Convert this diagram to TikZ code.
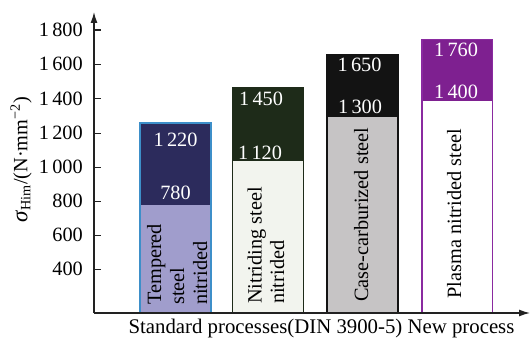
\documentclass[tikz,border=0pt]{standalone}
\usepackage{fontspec}
\setmainfont{Liberation Serif}
\usetikzlibrary{arrows.meta}
\definecolor{navy}{HTML}{2C2B5C}
\definecolor{lavender}{HTML}{A09DCC}
\definecolor{skyb}{HTML}{3D8FC9}
\definecolor{dgreen}{HTML}{1E2B19}
\definecolor{pale}{HTML}{F2F4EE}
\definecolor{nearblack}{HTML}{131313}
\definecolor{lgray}{HTML}{C6C4C5}
\definecolor{purp}{HTML}{7E2090}
\definecolor{purpb}{HTML}{8A2AA0}
\definecolor{axisc}{HTML}{222222}
\begin{document}
\begin{tikzpicture}[x=1pt,y=-1pt,
  every node/.style={font=\fontsize{20.3}{23}\selectfont, inner sep=0pt},
  axisline/.style={draw=axisc, line width=1.3pt},
  tickline/.style={draw=axisc, line width=1.1pt},
  ticklabel/.style={anchor=east},
  vallabel/.style={text=white},
  rottext/.style={rotate=90, anchor=base west},
  barline/.style={line width=1.2pt}]
\useasboundingbox (0,0) rectangle (530,339);
% bars
\fill[lavender] (140,205) rectangle (211,313);
\fill[navy] (140,123) rectangle (211,205);
\draw[barline, skyb] (140,123) rectangle (211,313);
\fill[pale] (232.5,161.5) rectangle (303.5,313);
\fill[dgreen] (232.5,88) rectangle (303.5,161.5);
\draw[barline, dgreen] (232.5,88) rectangle (303.5,313);
\fill[lgray] (327,117) rectangle (398,313);
\fill[nearblack] (327,54.5) rectangle (398,117);
\draw[barline, nearblack] (327,54.5) rectangle (398,313);
\fill[white] (422,101) rectangle (492.5,313);
\fill[purp] (422,39.5) rectangle (492.5,101);
\draw[barline, purpb] (422,39.5) rectangle (492.5,313);
% axes
\coordinate (origin) at (94,313);
\coordinate (ytip) at (94,12);
\coordinate (xtip) at (530,313);
\draw[axisline, -{Latex[length=11pt,width=7pt]}] (origin) -- (ytip);
\draw[axisline, -{Latex[length=11pt,width=7pt]}] (origin) -- (xtip);
% ticks
\foreach \v/\y in {1800/30, 1600/64.3, 1400/98.7, 1200/133.3, 1000/167.3, 800/201.3, 600/235.3, 400/269.3}{
  \draw[tickline] (94,\y) -- (100.5,\y);
}
\node[ticklabel] (t1800) at (83,30) {1\,800};
\node[ticklabel] (t1600) at (83,64.3) {1\,600};
\node[ticklabel] (t1400) at (83,98.7) {1\,400};
\node[ticklabel] (t1200) at (83,133.3) {1\,200};
\node[ticklabel] (t1000) at (83,167.3) {1\,000};
\node[ticklabel] (t800) at (83,201.3) {800};
\node[ticklabel] (t600) at (83,235.3) {600};
\node[ticklabel] (t400) at (83,269.3) {400};
% y label
\node[rotate=90] (ylab) at (21,160) {{\fontsize{23}{23}\selectfont\textit{σ}}\textsubscript{Him}/(N·mm\textsuperscript{−2})};
% value labels
\node[vallabel] (v1220) at (175.5,140) {1\,220};
\node[vallabel] (v780) at (175.5,193) {780};
\node[vallabel] (v1450) at (261,99) {1\,450};
\node[vallabel] (v1120) at (260,153) {1\,120};
\node[vallabel] (v1650) at (359.5,65) {1\,650};
\node[vallabel] (v1300) at (360,107) {1\,300};
\node[vallabel] (v1760) at (456,50) {1\,760};
\node[vallabel] (v1400) at (456,92) {1\,400};
% rotated bar texts
\node[rottext] (b1a) at (161,305) {Tempered};
\node[rottext] (b1b) at (184,305) {steel};
\node[rottext] (b1c) at (207,305) {nitrided};
\node[rottext] (b2a) at (261.5,304) {Nitriding steel};
\node[rottext] (b2b) at (284,304) {nitrided};
\node[rottext] (b3) at (368,302) {Case-carburized steel};
\node[rottext] (b4) at (461,298.5) {Plasma nitrided steel};
% bottom text
\node[anchor=base, font=\fontsize{20.8}{23}\selectfont] (xlab) at (321.5,333) {Standard processes(DIN 3900-5) New process};
\end{tikzpicture}
\end{document}
